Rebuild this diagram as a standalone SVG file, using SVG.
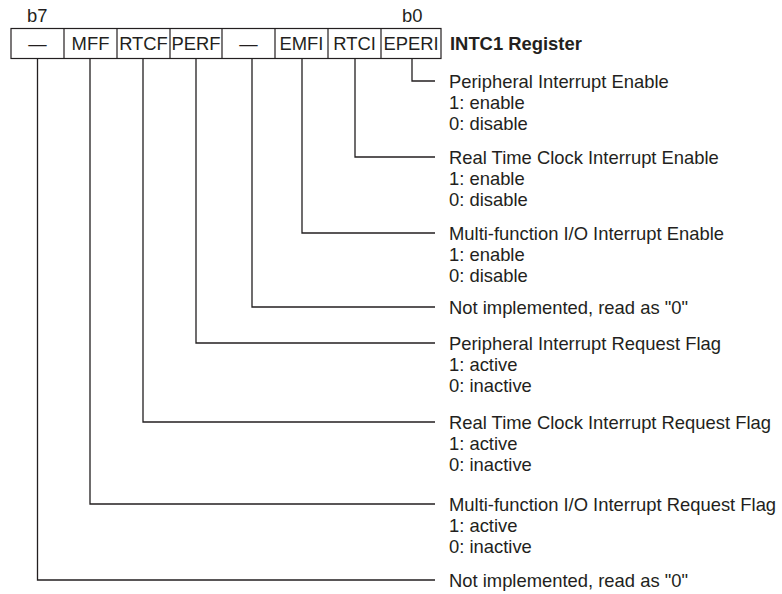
<svg xmlns="http://www.w3.org/2000/svg" width="782" height="594" viewBox="0 0 782 594">
<style>
text{font-family:"Liberation Sans",Arial,sans-serif;font-size:18.4px;fill:#231f20}
.b{font-weight:bold}
.c{text-anchor:middle}
.cell{fill:none;stroke:#231f20;stroke-width:1.2}
.ln{fill:none;stroke:#231f20;stroke-width:1.3}
</style>
<rect width="782" height="594" fill="#fff"/>
<g id="register">
<text x="27" y="21.5">b7</text>
<text x="402" y="21.5">b0</text>
<rect class="cell" x="11" y="28.5" width="430" height="30"/>
<path class="cell" d="M64 28.5V58.5M117 28.5V58.5M170 28.5V58.5M222 28.5V58.5M275 28.5V58.5M328 28.5V58.5M381 28.5V58.5"/>
<text class="c" x="37.5" y="50">—</text>
<text class="c" x="90.5" y="50">MFF</text>
<text class="c" x="143.5" y="50">RTCF</text>
<text class="c" x="196" y="50">PERF</text>
<text class="c" x="248.5" y="50">—</text>
<text class="c" x="301.5" y="50">EMFI</text>
<text class="c" x="354.5" y="50">RTCI</text>
<text class="c" x="411" y="50">EPERI</text>
<text class="b" x="450" y="50">INTC1 Register</text>
</g>
<g id="connectors">
<path class="ln" d="M412 58.5V81H435"/>
<path class="ln" d="M355 58.5V157H435"/>
<path class="ln" d="M302 58.5V233H435"/>
<path class="ln" d="M252 58.5V307H435"/>
<path class="ln" d="M196 58.5V343H435"/>
<path class="ln" d="M143 58.5V422H435"/>
<path class="ln" d="M90 58.5V504H435"/>
<path class="ln" d="M37.5 58.5V580H435"/>
</g>
<g id="d-eperi">
<text x="449" y="87.5">Peripheral Interrupt Enable</text>
<text x="449" y="108.5">1: enable</text>
<text x="449" y="129.5">0: disable</text>
</g>
<g id="d-rtci">
<text x="449" y="163.5">Real Time Clock Interrupt Enable</text>
<text x="449" y="184.5">1: enable</text>
<text x="449" y="205.5">0: disable</text>
</g>
<g id="d-emfi">
<text x="449" y="239.5">Multi-function I/O Interrupt Enable</text>
<text x="449" y="260.5">1: enable</text>
<text x="449" y="281.5">0: disable</text>
</g>
<g id="d-b3">
<text x="449" y="313.5">Not implemented, read as "0"</text>
</g>
<g id="d-perf">
<text x="449" y="349.5">Peripheral Interrupt Request Flag</text>
<text x="449" y="370.5">1: active</text>
<text x="449" y="391.5">0: inactive</text>
</g>
<g id="d-rtcf">
<text x="449" y="428.5">Real Time Clock Interrupt Request Flag</text>
<text x="449" y="449.5">1: active</text>
<text x="449" y="470.5">0: inactive</text>
</g>
<g id="d-mff">
<text x="449" y="510.5">Multi-function I/O Interrupt Request Flag</text>
<text x="449" y="531.5">1: active</text>
<text x="449" y="552.5">0: inactive</text>
</g>
<g id="d-b7">
<text x="449" y="586.5">Not implemented, read as "0"</text>
</g>
</svg>
